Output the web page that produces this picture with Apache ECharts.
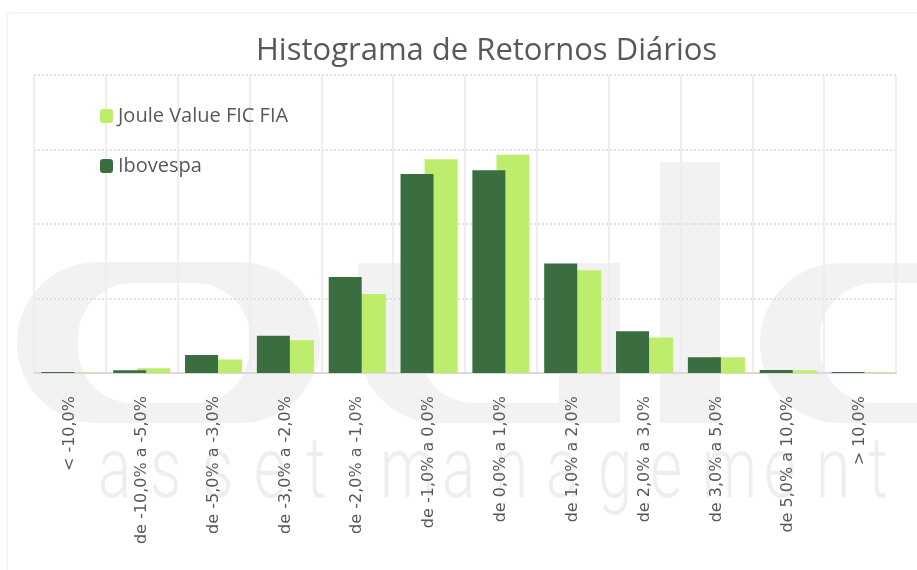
<!DOCTYPE html>
<html>
<head>
<meta charset="utf-8">
<script src="https://cdn.jsdelivr.net/npm/echarts@6/dist/echarts.min.js"></script>
<style>
  html, body { margin: 0; padding: 0; background: #fff; }
  #chart { width: 917px; height: 570px; }
</style>
</head>
<body>
<div id="chart"></div>
<script>
// faixas de retorno diário
var categories = [
  "< -10,0%", "de -10,0% a -5,0%", "de -5,0% a -3,0%", "de -3,0% a -2,0%",
  "de -2,0% a -1,0%", "de -1,0% a 0,0%", "de 0,0% a 1,0%", "de 1,0% a 2,0%",
  "de 2,0% a 3,0%", "de 3,0% a 5,0%", "de 5,0% a 10,0%", "> 10,0%"
];
// frequência (%)
var ibovespa = [0.13, 0.38, 2.4, 5.0, 12.9, 26.7, 27.2, 14.7, 5.6, 2.1, 0.4, 0.13];
var joule = [0.07, 0.64, 1.8, 4.4, 10.6, 28.7, 29.3, 13.8, 4.75, 2.1, 0.36, 0.07];

var GREY = "#595959";
var WM = "#f2f2f2"; // marca d'água

// marca d'água "oule asset management" atrás do gráfico
var wm = [
  { type: "rect", shape: { x: 17, y: 262, width: 303, height: 161, r: 80 }, style: { fill: WM } },
  { type: "rect", shape: { x: 78, y: 283, width: 172, height: 120, r: 55 }, style: { fill: "#fff" } },
  { type: "rect", shape: { x: 358, y: 263, width: 262, height: 160, r: [0, 0, 0, 80] }, style: { fill: WM } },
  { type: "rect", shape: { x: 419, y: 250, width: 140, height: 153, r: [0, 0, 0, 55] }, style: { fill: "#fff" } },
  { type: "rect", shape: { x: 660, y: 162, width: 60, height: 261 }, style: { fill: WM } },
  { type: "rect", shape: { x: 760, y: 263, width: 320, height: 160, r: 80 }, style: { fill: WM } },
  { type: "rect", shape: { x: 820, y: 283, width: 220, height: 120, r: 55 }, style: { fill: "#fff" } }
];
var letters = "asset management";
var lx = 98;
for (var i = 0; i < letters.length; i++) {
  var ch = letters[i];
  if (ch !== " ") {
    wm.push({
      type: "text", x: lx, y: 432, scaleX: 0.72,
      style: { text: ch, fill: "#eeeeee", font: "300 86px Roboto", textAlign: "left", textVerticalAlign: "top" }
    });
  }
  lx += ch === "m" ? 62 : (ch === " " ? 22 : 52);
}
wm.push({ type: "rect", shape: { x: 7, y: 13, width: 940, height: 600, r: 4 }, style: { fill: "none", stroke: "#ececec", lineWidth: 1 } });

var chart = echarts.init(document.getElementById("chart"));
chart.setOption({
  backgroundColor: "#fff",
  animation: false,
  graphic: { elements: wm.map(function (e) { e.z = -10; e.silent = true; return e; }) },
  title: {
    text: "Histograma de Retornos Diários",
    left: 251,
    top: 31,
    textStyle: { fontFamily: "Open Sans", fontWeight: "normal", fontSize: 31, color: GREY }
  },
  legend: {
    orient: "vertical",
    left: 95,
    top: 101,
    itemGap: 30,
    itemWidth: 13,
    itemHeight: 14,
    data: ["Joule Value FIC FIA", "Ibovespa"],
    textStyle: { fontFamily: "Open Sans", fontSize: 20, color: GREY }
  },
  grid: { left: 34, right: 21, top: 75, bottom: 197 },
  xAxis: {
    type: "category",
    data: categories,
    axisLine: { lineStyle: { color: "#d9d9d9", width: 2 } },
    axisTick: { show: false },
    splitLine: { show: true, interval: 0, lineStyle: { color: "#eeeeee", width: 2 } },
    axisLabel: {
      interval: 0, rotate: 90, margin: 23,
      fontFamily: "DejaVu Sans", fontSize: 16, color: GREY
    }
  },
  yAxis: {
    type: "value",
    min: 0, max: 40, interval: 10,
    axisLabel: { show: false },
    axisLine: { show: false },
    axisTick: { show: false },
    splitLine: { lineStyle: { color: "#d9d9d9", type: [2, 2], width: 1.5 } }
  },
  series: [
    {
      name: "Ibovespa", type: "bar", data: ibovespa,
      barWidth: 33, barGap: "-27%", z: 3,
      itemStyle: { color: "#3a6d3f" }
    },
    {
      name: "Joule Value FIC FIA", type: "bar", data: joule,
      barWidth: 33, barGap: "-27%", z: 2,
      itemStyle: { color: "#bded6b" }
    }
  ]
});
</script>
</body>
</html>
